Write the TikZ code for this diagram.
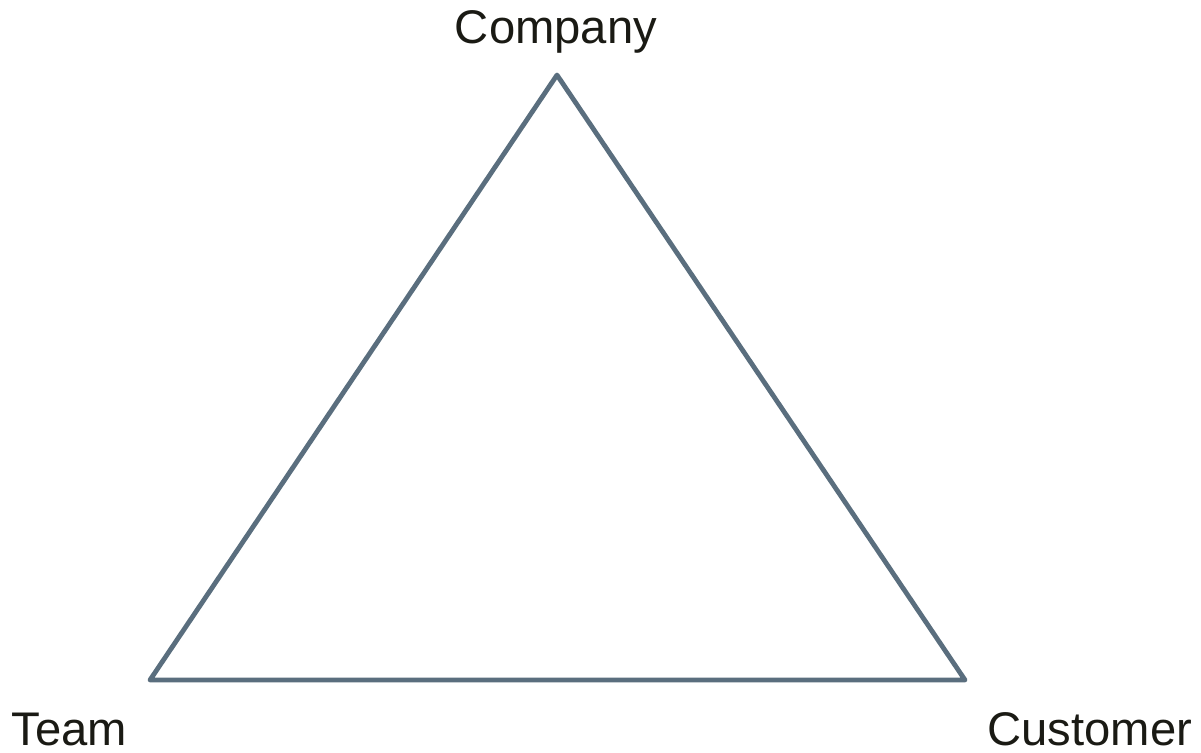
\documentclass[tikz,border=0pt]{standalone}
\usepackage{fontspec}
\setmainfont{Liberation Sans}
\usepackage{xcolor}
\usetikzlibrary{positioning}
\definecolor{edgegrey}{HTML}{5A6E7E}
\definecolor{inkblack}{HTML}{1A1A14}

\begin{document}
\begin{tikzpicture}[x=0.5pt, y=-0.5pt,
		side/.style = {line width=2.4pt, edgegrey, line join=round, line cap=round},
		vertexlabel/.style = {inner sep=0pt, inkblack, font=\fontsize{23.6}{28}\selectfont}]
			\useasboundingbox (0,0) rectangle (1201,752);
			\coordinate (company) at (557,75);
			\coordinate (team) at (150,680);
			\coordinate (customer) at (965,680);
			\draw[side] (company) -- (customer) -- (team) -- cycle;
			\node[vertexlabel, anchor=base] (companylabel) at (556,43) {Company};
			\node[vertexlabel, anchor=base west] (teamlabel) at (11,745) {Team};
			\node[vertexlabel, anchor=base west] (customerlabel) at (987,745) {Customer};
		\end{tikzpicture}
\end{document}
